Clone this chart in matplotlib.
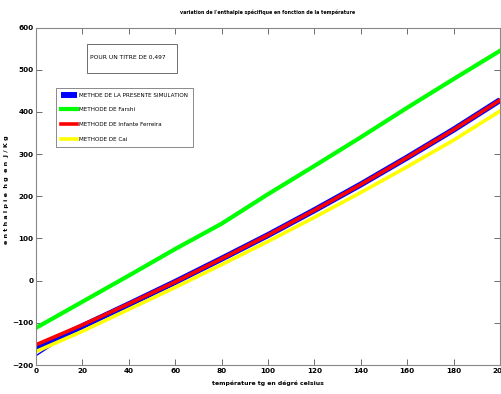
import matplotlib
matplotlib.use("Agg")
import matplotlib.pyplot as plt
from matplotlib.patches import Rectangle

# Data
temps = [0, 20, 40, 60, 80, 100, 120, 140, 160, 180, 200]
hg_simulation = [-160, -108, -56, -3, 52, 108, 167, 228, 292, 358, 428]
hg_simulation_thin_x = [0, 10, 20]
hg_simulation_thin = [-178, -142, -110]
hg_farshi = [-112, -50, 12, 75, 135, 205, 272, 340, 410, 478, 545]
hg_infante = [-152, -105, -55, -3, 52, 108, 167, 228, 292, 358, 428]
hg_cai = [-168, -120, -68, -16, 38, 93, 150, 209, 270, 333, 402]

xticks = [0, 20, 40, 60, 80, 100, 120, 140, 160, 180, 200]
yticks = [-200, -100, 0, 100, 200, 300, 400, 500, 600]

fig = plt.figure(figsize=(5.02, 3.94), dpi=100)
ax = fig.add_axes([0.0717, 0.0736, 0.9243, 0.8564])

l1, = ax.plot(temps, hg_simulation, color="#0000ff", lw=4.3, solid_capstyle="butt",
              label="METHDE DE LA PRESENTE SIMULATION")
ax.plot(hg_simulation_thin_x, hg_simulation_thin, color="#0000ff", lw=1.0)
l2, = ax.plot(temps, hg_farshi, color="#00ff00", lw=3.0, label="METHODE DE Farshi")
l3, = ax.plot(temps, hg_infante, color="#ff0000", lw=2.6, label="METHODE DE Infante Ferreira")
l4, = ax.plot(temps, hg_cai, color="#ffff00", lw=2.6, label="METHODE DE Cai")

ax.set_xlim(0, 200)
ax.set_ylim(-200, 600)
ax.set_xticks(xticks)
ax.set_yticks(yticks)
ax.tick_params(direction="in", top=True, right=True, length=4, width=0.6,
               labelsize=5.2, colors="#555555", labelcolor="black", pad=2)
for lab in ax.get_xticklabels() + ax.get_yticklabels():
    lab.set_fontweight("bold")
for s in ax.spines.values():
    s.set_color("#888888")
    s.set_linewidth(0.8)

ax.set_title("variation de l'enthalpie spécifique en fonction de la température",
             fontsize=3.4, fontweight="bold", pad=10)
ax.set_xlabel("température tg en dégré celsius", fontsize=4.4, fontweight="bold", labelpad=5)
ax.set_ylabel("e n t h a l p i e  h g  e n  J / K g", fontsize=4.6, fontweight="bold")
ax.yaxis.set_label_coords(-0.058, 0.52)

ax.add_patch(Rectangle((0.110, 0.866), 0.194, 0.084, transform=ax.transAxes,
                       fc="white", ec="#555555", lw=0.6, zorder=5))
ax.text(0.117, 0.911, "POUR UN TITRE DE 0,497", transform=ax.transAxes, fontsize=4.3,
        va="center", ha="left", zorder=6)

leg = ax.legend(handles=[l1, l2, l3, l4], loc="upper left", bbox_to_anchor=(0.043, 0.822),
                fontsize=4.1, frameon=True, fancybox=False, handlelength=2.8,
                borderpad=0.9, labelspacing=1.7, handletextpad=0.4, borderaxespad=0)
leg.get_frame().set_edgecolor("#555555")
leg.get_frame().set_linewidth(0.6)

fig.savefig("out.png", dpi=100)
